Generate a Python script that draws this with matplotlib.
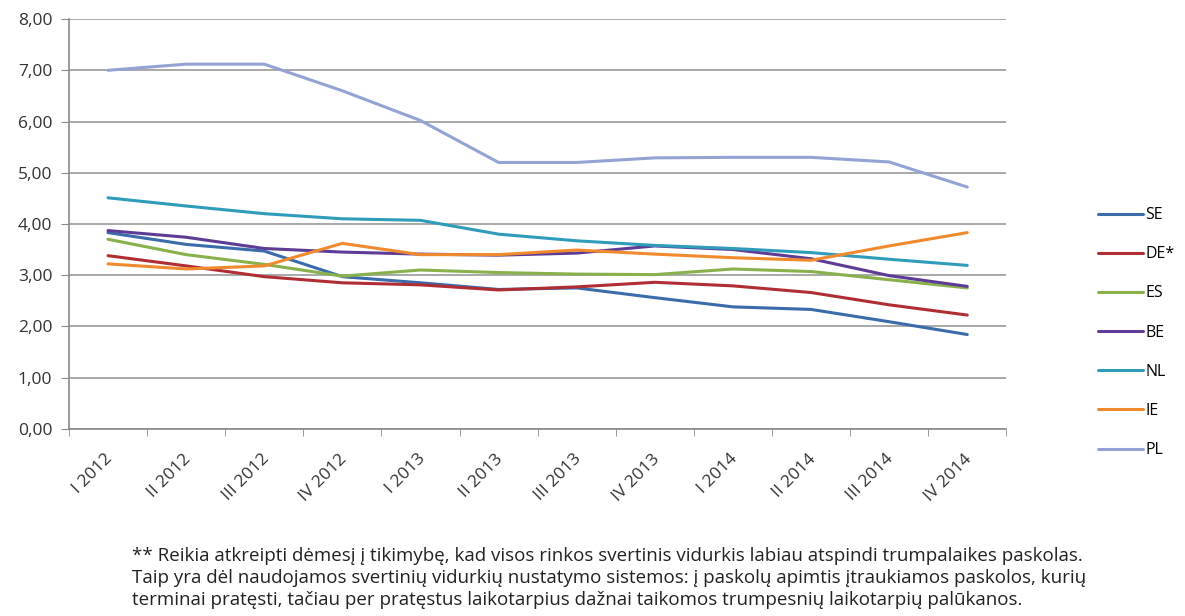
import matplotlib
matplotlib.use('Agg')
import matplotlib.pyplot as plt
import matplotlib.transforms as mtransforms
import numpy as np

# quarters on the x axis
quarters = ['I 2012', 'II 2012', 'III 2012', 'IV 2012',
            'I 2013', 'II 2013', 'III 2013', 'IV 2013',
            'I 2014', 'II 2014', 'III 2014', 'IV 2014']

# interest rates per country
se = [3.83, 3.60, 3.47, 2.97, 2.85, 2.72, 2.75, 2.56, 2.38, 2.33, 2.09, 1.84]
de = [3.38, 3.18, 2.97, 2.85, 2.81, 2.71, 2.77, 2.86, 2.79, 2.66, 2.42, 2.22]
es = [3.70, 3.40, 3.21, 2.98, 3.10, 3.05, 3.02, 3.01, 3.12, 3.07, 2.91, 2.75]
be = [3.87, 3.74, 3.52, 3.45, 3.41, 3.39, 3.43, 3.57, 3.50, 3.32, 2.99, 2.78]
nl = [4.51, 4.35, 4.20, 4.10, 4.07, 3.80, 3.67, 3.58, 3.52, 3.44, 3.31, 3.19]
ie = [3.22, 3.12, 3.18, 3.62, 3.40, 3.40, 3.49, 3.41, 3.34, 3.29, 3.57, 3.83]
pl = [7.00, 7.12, 7.12, 6.60, 6.02, 5.20, 5.20, 5.29, 5.30, 5.30, 5.21, 4.72]

names = ['SE', 'DE*', 'ES', 'BE', 'NL', 'IE', 'PL']
colors = ['#3A6BAA', '#B02E33', '#88B04B', '#5E3C96', '#2E9CBA', '#F08A2E', '#93A3D3']

footnote = ('** Reikia atkreipti dėmesį į tikimybę, kad visos rinkos svertinis vidurkis labiau atspindi trumpalaikes paskolas.\n'
            'Taip yra dėl naudojamos svertinių vidurkių nustatymo sistemos: į paskolų apimtis įtraukiamos paskolos, kurių\n'
            'terminai pratęsti, tačiau per pratęstus laikotarpius dažnai taikomos trumpesnių laikotarpių palūkanos.')

plt.rcParams['font.family'] = ['Open Sans', 'DejaVu Sans']

fig = plt.figure(figsize=(11.85, 6.16), dpi=100)
ax = fig.add_axes([0.0582, 0.304, 0.791, 0.665])

x = np.arange(len(quarters))
for vals, name, col in zip([se, de, es, be, nl, ie, pl], names, colors):
    ax.plot(x, vals, color=col, lw=2.2, label=name, solid_capstyle='round')

# axes decoration
ax.set_xlim(-0.5, len(quarters) - 0.5)
ax.set_ylim(0, 8)
yt = np.arange(0, 9, 1)
ax.set_yticks(yt)
ax.set_yticklabels([('%.2f' % v).replace('.', ',') for v in yt], fontsize=12.5, color='#333333')
ax.yaxis.grid(True, color='#9A9A9A', lw=1.2)
ax.set_axisbelow(True)
for s in ['top', 'right']:
    ax.spines[s].set_visible(False)
ax.spines['left'].set_color('#8A8A8A')
ax.spines['bottom'].set_color('#8A8A8A')
ax.spines['left'].set_linewidth(1.2)
ax.spines['bottom'].set_linewidth(1.2)
ax.tick_params(axis='y', length=6, color='#8A8A8A', pad=6)

# category boundaries carry the tick marks, labels sit at the centres
ax.set_xticks(x)
ax.set_xticks(np.arange(-0.5, len(quarters), 1), minor=True)
ax.tick_params(axis='x', which='major', length=0, pad=16)
ax.tick_params(axis='x', which='minor', length=5, color='#8A8A8A')
ax.set_xticklabels(quarters, rotation=45, ha='right', va='top', fontsize=12.5, color='#333333')
shift = mtransforms.ScaledTranslation(8 / 100, 0, fig.dpi_scale_trans)
for lab in ax.get_xticklabels():
    lab.set_transform(lab.get_transform() + shift)

ax.legend(loc='center left', bbox_to_anchor=(0.9266, 0.46), bbox_transform=fig.transFigure,
          frameon=False, fontsize=11.5, handlelength=2.8, handletextpad=0.15,
          labelspacing=1.45, borderpad=0, borderaxespad=0)

fig.text(0.111, 0.062, footnote, fontsize=13.5, color='#222222', linespacing=1.3,
         ha='left', va='center')

fig.savefig('out.png', dpi=100)
